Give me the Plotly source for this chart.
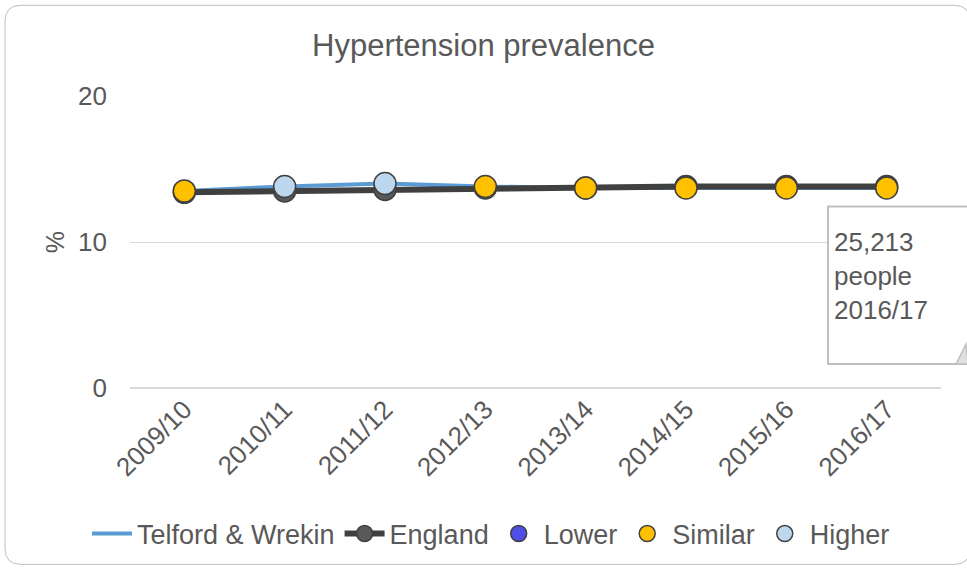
import plotly.graph_objects as go

years = ['2009/10', '2010/11', '2011/12', '2012/13', '2013/14', '2014/15', '2015/16', '2016/17']
telford = [13.5, 13.8, 14.0, 13.8, 13.7, 13.7, 13.7, 13.7]
england = [13.4, 13.5, 13.6, 13.7, 13.7, 13.8, 13.8, 13.8]
comparison = ['Similar', 'Higher', 'Higher', 'Similar', 'Similar', 'Similar', 'Similar', 'Similar']
callout_text = '25,213<br>people<br>2016/17'

W, H = 967, 569
L, R, T, B = 130, 26, 96, 180
PW, PH = W - L - R, H - T - B
FONT = 'Liberation Sans, Arial, sans-serif'
TXT = '#595959'


def px(x):
    return (x - L) / PW


def py(y):
    return (H - B - y) / PH


def rounded_path(x0, y0, x1, y1, r):
    pts = [
        f'M {px(x0 + r)} {py(y0)}',
        f'L {px(x1 - r)} {py(y0)}',
        f'Q {px(x1)} {py(y0)} {px(x1)} {py(y0 + r)}',
        f'L {px(x1)} {py(y1 - r)}',
        f'Q {px(x1)} {py(y1)} {px(x1 - r)} {py(y1)}',
        f'L {px(x0 + r)} {py(y1)}',
        f'Q {px(x0)} {py(y1)} {px(x0)} {py(y1 - r)}',
        f'L {px(x0)} {py(y0 + r)}',
        f'Q {px(x0)} {py(y0)} {px(x0 + r)} {py(y0)}',
        'Z',
    ]
    return ' '.join(pts)


fig = go.Figure()

fig.add_trace(go.Scatter(
    x=years, y=telford, name='Telford & Wrekin', mode='lines',
    line=dict(color='#5B9BD5', width=4)
))

fig.add_trace(go.Scatter(
    x=years, y=england, name='England', mode='lines+markers',
    line=dict(color='#404040', width=6),
    marker=dict(color='#595959', size=22, line=dict(color='#404040', width=1.5))
))

marker_colors = {'Lower': '#4F4FE8', 'Similar': '#FFC000', 'Higher': '#BDD7EE'}
for cat, col in marker_colors.items():
    xs = [y for y, c in zip(years, comparison) if c == cat]
    vs = [v for v, c in zip(telford, comparison) if c == cat]
    if not xs:
        xs, vs = [None], [None]
    fig.add_trace(go.Scatter(
        x=xs, y=vs, name=cat, mode='markers',
        marker=dict(color=col, size=22, line=dict(color='#404040', width=1.5))
    ))

# outer rounded chart border
fig.add_shape(type='path', xref='paper', yref='paper',
              path=rounded_path(5, 5, 970, 566, 16),
              line=dict(color='#BFBFBF', width=1), layer='below')

# callout box with folded corner
fig.add_shape(type='rect', xref='paper', yref='paper',
              x0=px(828), x1=px(990), y0=py(365), y1=py(207),
              line=dict(color='#BFBFBF', width=2), fillcolor='white')
fig.add_shape(type='path', xref='paper', yref='paper',
              path=f'M {px(956)} {py(365)} L {px(966)} {py(345)} L {px(968)} {py(365)} Z',
              line=dict(color='#BFBFBF', width=1.5), fillcolor='#E0E0E0')
fig.add_annotation(xref='paper', yref='paper', x=px(832), y=py(225),
                   xanchor='left', yanchor='top', align='left', showarrow=False,
                   text=callout_text, font=dict(family=FONT, size=26, color=TXT))

fig.update_layout(
    width=W, height=H,
    margin=dict(l=L, r=R, t=T, b=B),
    paper_bgcolor='white', plot_bgcolor='white',
    font=dict(family=FONT, color=TXT),
    title=dict(text='Hypertension prevalence', x=0.5, xanchor='center',
               y=1 - 45 / H, yanchor='middle',
               font=dict(family=FONT, size=31, color=TXT)),
    showlegend=True,
    legend=dict(orientation='h', x=px(491), xanchor='center', y=py(534), yanchor='middle',
                font=dict(family=FONT, size=27, color=TXT), itemwidth=40,
                tracegroupgap=0),
    xaxis=dict(type='category', tickangle=-45, tickfont=dict(size=26, color=TXT),
               showgrid=False, showline=False, ticks=''),
    yaxis=dict(range=[0, 20], tickvals=[0, 10, 20], tickfont=dict(size=26, color=TXT),
               gridcolor='#D9D9D9', gridwidth=1, zeroline=True, zerolinecolor='#D9D9D9',
               showline=False, ticks='', ticklen=0, ticklabelstandoff=22,
               title=dict(text='%', font=dict(size=25, color=TXT), standoff=6)),
)

fig.write_html('out.html', config={'displayModeBar': False},
               post_script="document.body.style.margin='0px';")
